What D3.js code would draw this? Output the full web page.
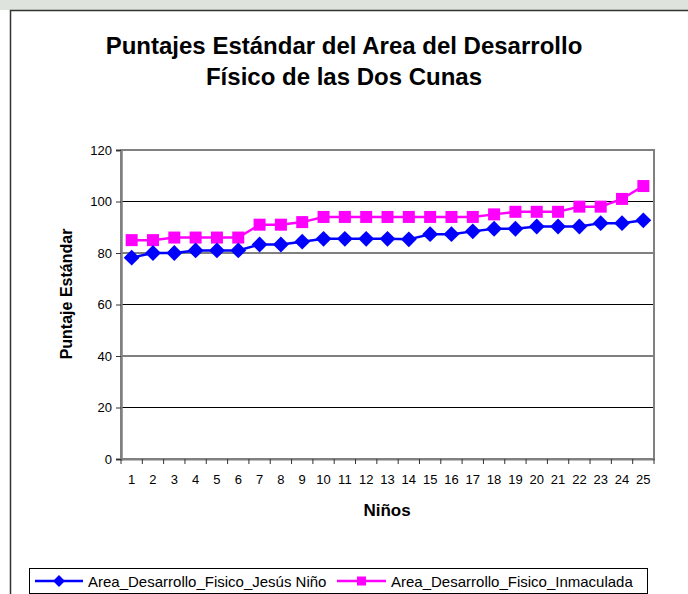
<!DOCTYPE html>
<html><head><meta charset="utf-8">
<script src="https://cdn.jsdelivr.net/npm/d3@7"></script>
<style>body{margin:0;background:#fff}svg{display:block}text{font-family:"Liberation Sans",Arial,sans-serif}</style>
</head><body>
<script>
const categories = d3.range(1, 26).map(String);
const jesusNino = [78.2, 80, 80, 81, 81, 81, 83.3, 83.3, 84.4, 85.5, 85.5, 85.5, 85.5, 85.3, 87.3, 87.3, 88.4, 89.4, 89.4, 90.3, 90.3, 90.3, 91.6, 91.6, 92.7];
const inmaculada = [85, 85, 86, 86, 86, 86, 91, 91, 92, 94, 94, 94, 94, 94, 94, 94, 94, 95, 96, 96, 96, 98, 98, 101, 106];
const yTicks = [0, 20, 40, 60, 80, 100, 120];
const seriesNames = ["Area_Desarrollo_Fisico_Jesús Niño", "Area_Desarrollo_Fisico_Inmaculada"];

const W = 688, H = 594;
const svg = d3.select("body").append("svg").attr("width", W).attr("height", H);

// top background strip
svg.append("rect").attr("x", 0).attr("y", 0).attr("width", W).attr("height", 10).attr("fill", "#dfe3dd");
// outer frame
svg.append("rect").attr("x", 10.5).attr("y", 10.5).attr("width", 720).attr("height", 620)
  .attr("fill", "#fff").attr("stroke", "#333").attr("stroke-width", 1.5);

// title
const title = svg.append("text").attr("text-anchor", "middle").attr("font-weight", "bold").attr("font-size", 24).attr("fill", "#000");
title.append("tspan").attr("x", 344).attr("y", 54).text("Puntajes Estándar del Area del Desarrollo");
title.append("tspan").attr("x", 344).attr("y", 85).text("Físico de las Dos Cunas");

const m = {l: 121, r: 654, t: 150, b: 459};
const x = d3.scaleBand().domain(categories).range([m.l, m.r]);
const y = d3.scaleLinear().domain([0, 120]).range([m.b, m.t]);

// gridlines
svg.append("g").selectAll("line").data(yTicks.filter(d => d > 0 && d < 120)).join("line")
  .attr("x1", m.l).attr("x2", m.r).attr("y1", d => y(d)).attr("y2", d => y(d))
  .attr("stroke", "#000").attr("stroke-width", 1);

// plot border (gray)
svg.append("rect").attr("x", m.l).attr("y", m.t).attr("width", m.r - m.l).attr("height", m.b - m.t)
  .attr("fill", "none").attr("stroke", "#808080").attr("stroke-width", 2);

// y axis
const yAxis = svg.append("g").attr("transform", `translate(${m.l},0)`)
  .call(d3.axisLeft(y).tickValues(yTicks).tickSize(5).tickPadding(4));
yAxis.select(".domain").attr("stroke", "#808080").attr("stroke-width", 2.5);
yAxis.selectAll(".tick line").attr("stroke", "#333");
yAxis.selectAll("text").attr("font-size", 13).attr("fill", "#000").attr("font-family", '"Liberation Sans",Arial,sans-serif');

// x axis with ticks between categories
const xAxis = svg.append("g").attr("transform", `translate(0,${m.b})`)
  .call(d3.axisBottom(x).tickSize(0).tickPadding(16));
xAxis.select(".domain").attr("stroke", "#808080").attr("stroke-width", 2);
xAxis.selectAll("text").attr("font-size", 13).attr("fill", "#000").attr("font-family", '"Liberation Sans",Arial,sans-serif');
const bounds = categories.map(c => x(c)).concat([m.r]);
svg.append("g").selectAll("line").data(bounds).join("line")
  .attr("x1", d => d).attr("x2", d => d).attr("y1", m.b).attr("y2", m.b + 5)
  .attr("stroke", "#333").attr("stroke-width", 1);

// axis titles
svg.append("text").attr("x", 387).attr("y", 516).attr("text-anchor", "middle")
  .attr("font-weight", "bold").attr("font-size", 17).text("Niños");
svg.append("text").attr("transform", `translate(72,294) rotate(-90)`)
  .attr("text-anchor", "middle").attr("font-weight", "bold").attr("font-size", 16).text("Puntaje Estándar");

const cx = (d, i) => x(categories[i]) + x.bandwidth() / 2;
const line = d3.line().x(cx).y(d => y(d));

// Inmaculada (pink squares)
svg.append("path").datum(inmaculada).attr("d", line).attr("fill", "none")
  .attr("stroke", "#ff00ff").attr("stroke-width", 2.5);
svg.append("g").selectAll("rect").data(inmaculada).join("rect")
  .attr("x", (d, i) => cx(d, i) - 6).attr("y", d => y(d) - 6).attr("width", 12).attr("height", 12)
  .attr("fill", "#ff00ff");

// Jesús Niño (blue diamonds)
svg.append("path").datum(jesusNino).attr("d", line).attr("fill", "none")
  .attr("stroke", "#0000ff").attr("stroke-width", 2.5);
const diamond = d3.symbol().type(d3.symbolDiamond2).size(160);
svg.append("g").selectAll("path").data(jesusNino).join("path")
  .attr("transform", (d, i) => `translate(${cx(d, i)},${y(d)})`)
  .attr("d", diamond).attr("fill", "#0000ff");

// legend
svg.append("rect").attr("x", 29.5).attr("y", 568.5).attr("width", 618).attr("height", 25)
  .attr("fill", "#fff").attr("stroke", "#000").attr("stroke-width", 1);
const ly = 581;
svg.append("line").attr("x1", 35).attr("x2", 83).attr("y1", ly).attr("y2", ly).attr("stroke", "#0000ff").attr("stroke-width", 2.5);
svg.append("path").attr("transform", `translate(59,${ly})`).attr("d", d3.symbol().type(d3.symbolDiamond2).size(90)).attr("fill", "#0000ff");
svg.append("text").attr("x", 88).attr("y", ly + 5.5).attr("font-size", 15).text(seriesNames[0]);
svg.append("line").attr("x1", 337).attr("x2", 386).attr("y1", ly).attr("y2", ly).attr("stroke", "#ff00ff").attr("stroke-width", 2.5);
svg.append("rect").attr("x", 357).attr("y", ly - 4.5).attr("width", 9).attr("height", 9).attr("fill", "#ff00ff");
svg.append("text").attr("x", 391).attr("y", ly + 5.5).attr("font-size", 15).text(seriesNames[1]);
</script>
</body></html>
